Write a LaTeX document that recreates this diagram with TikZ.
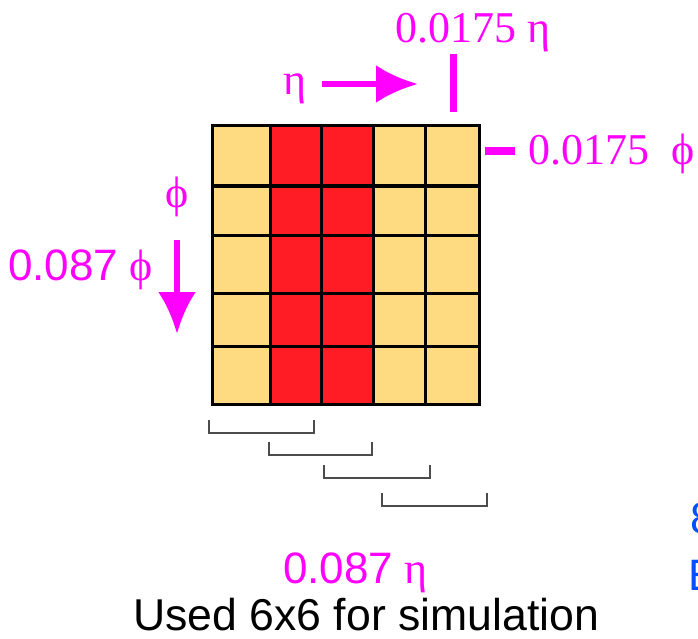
\documentclass[tikz,border=0pt]{standalone}
\usepackage{fontspec}
\setmainfont{Liberation Serif}
\newfontfamily\arialfont{Liberation Sans}
\usetikzlibrary{arrows.meta, positioning}
\definecolor{cellyellow}{HTML}{FEDB80}
\definecolor{cellred}{HTML}{FF1C24}
\definecolor{labelmag}{HTML}{FF00FF}
\definecolor{noteblue}{HTML}{0050FF}

\begin{document}
\begin{tikzpicture}[x=1pt, y=-1pt, >={Latex[length=42pt,width=38pt]},
    lab/.style={text=labelmag, font=\fontsize{44}{48}\selectfont, inner sep=0pt, anchor=base west},
    gridline/.style={line width=3pt, line cap=rect},
    bracket/.style={draw=black!70, line width=1.2pt},
    bar/.style={draw=labelmag, line width=7pt}]
    \clip (0,0) rectangle (698,639);

    % Cells: 5 x 5, two red columns
    \fill[cellyellow] (212,126) rectangle (479,404);
    \fill[cellred] (270,126) rectangle (373,404);
    \foreach \x in {212,270,321,373,425,479}
        \draw[gridline] (\x,126) -- (\x,404);
    \foreach \y in {126,186,235,293,346,404}
        \draw[gridline] (212,\y) -- (479,\y);

    % Labels along eta
    \node[lab] (etaTop) at (395,43) {0.0175 η};
    \node[lab] (eta) at (283,95) {η};
    \coordinate (etaS) at (322,84);
    \coordinate (etaE) at (418,84);
    \draw[->, labelmag, line width=6pt] (etaS) -- (etaE);
    \coordinate (barT) at (453,54);
    \coordinate (barB) at (453,112);
    \draw[bar] (barT) -- (barB);

    % Labels along phi
    \coordinate (dashL) at (485,151);
    \coordinate (dashR) at (515,151);
    \draw[bar, line width=8pt] (dashL) -- (dashR);
    \node[lab] (phiRight) at (528,165) {0.0175~~ϕ};
    \node[lab, anchor=base] (phi) at (177,207) {ϕ};
    \node[lab] (phiStep) at (8,280) {{\arialfont 0.087} ϕ};
    \coordinate (phiS) at (177,240);
    \coordinate (phiE) at (177,334);
    \draw[->, labelmag, line width=6pt] (phiS) -- (phiE);

    % Sliding windows
    \foreach \a/\b/\t in {209/314/420, 269/372/442, 324/430/465, 382/487/493}
        \draw[bracket] (\a,\t) -- (\a,\t+13) -- (\b,\t+13) -- (\b,\t);

    \node[lab] (etaStep) at (283,583) {{\arialfont 0.087} η};
    \node[lab, text=black, font=\fontsize{44.6}{48}\arialfont] (caption) at (133,630) {Used 6x6 for simulation};

    % Text cut by the right edge
    \node[lab, text=noteblue, font=\fontsize{44}{48}\arialfont] (noteA) at (690,533) {8};
    \node[lab, text=noteblue, font=\fontsize{44}{48}\arialfont] (noteB) at (688,590) {E};
\end{tikzpicture}
\end{document}
